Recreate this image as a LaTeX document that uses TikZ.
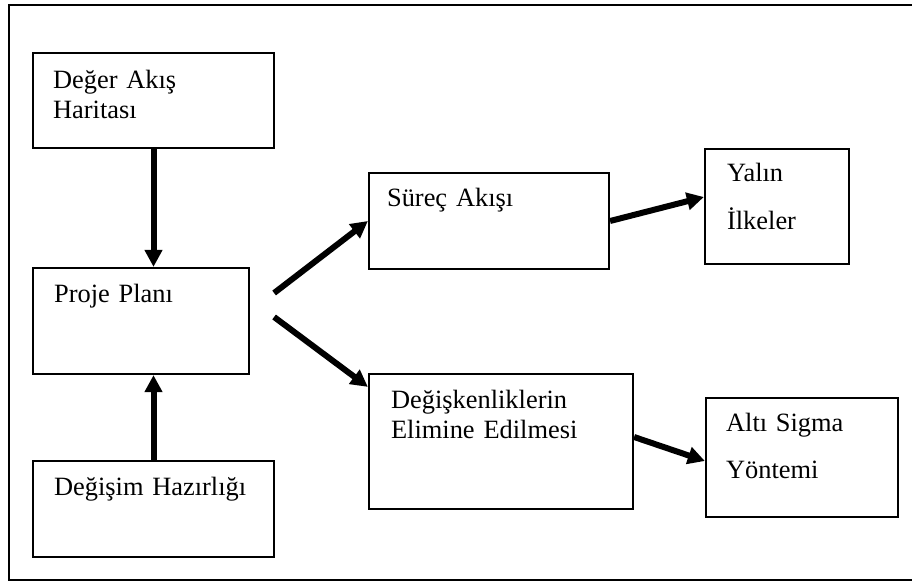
\documentclass[tikz,border=0pt]{standalone}
\usepackage{fontspec}
\setmainfont{Liberation Serif}
\usepackage{tikz}
\usetikzlibrary{arrows.meta}

\begin{document}
\begin{tikzpicture}[x=1pt,y=-1pt,
box/.style={draw,line width=2.2pt,inner sep=0pt},
txt/.style={anchor=base west,inner sep=0pt,align=left,text width=240pt,font=\fontsize{26.4}{30}\selectfont},
arr/.style={-{Triangle[length=17pt,width=17pt]},line width=6pt}]
\useasboundingbox (0,0) rectangle (912,583);
\draw[line width=2pt] (913,5)--(9,5)--(9,580)--(913,580);
\node[box,minimum width=241,minimum height=95] (deger) at (153.5,100.5) {};
\node[box,minimum width=216,minimum height=106] (proje) at (141,321) {};
\node[box,minimum width=241,minimum height=96] (degisim) at (153.5,509) {};
\node[box,minimum width=240,minimum height=96] (surec) at (489,221) {};
\node[box,minimum width=264,minimum height=135] (degisken) at (501,441.5) {};
\node[box,minimum width=144,minimum height=115] (yalin) at (777,206.5) {};
\node[box,minimum width=192,minimum height=119] (alti) at (802,457.5) {};
\node[txt] (degerT) at ([shift={(21,37)}]deger.north west) {Değer Akış\\Haritası};
\node[txt] (projeT) at ([shift={(22,36)}]proje.north west) {Proje Planı};
\node[txt] (degisimT) at ([shift={(22,36)}]degisim.north west) {Değişim Hazırlığı};
\node[txt] (surecT) at ([shift={(19,35)}]surec.north west) {Süreç Akışı};
\node[txt] (yalinT) at ([shift={(23,34)}]yalin.north west) {Yalın\\[18pt]İlkeler};
\node[txt] (degiskenT) at ([shift={(23,36)}]degisken.north west) {Değişkenliklerin\\Elimine Edilmesi};
\node[txt] (altiT) at ([shift={(21,35)}]alti.north west) {Altı Sigma\\[17pt]Yöntemi};
\coordinate (up) at ([shift={(24,-28)}]proje.east);
\coordinate (down) at ([shift={(24,-4)}]proje.east);
\draw[arr] (deger.south)--(deger.south |- proje.north);
\draw[arr] (degisim.north)--(degisim.north |- proje.south);
\draw[arr] (up)--(surec.west);
\draw[arr] (down)--([yshift=-14pt]degisken.north west);
\draw[arr] (surec.east)--([yshift=9.5pt]yalin.west);
\draw[arr] ([yshift=4.5pt]degisken.east)--([yshift=-3.5pt]alti.west);
\end{tikzpicture}
\end{document}
